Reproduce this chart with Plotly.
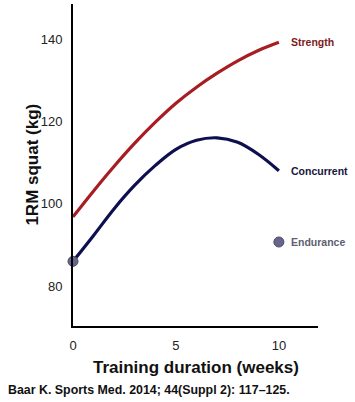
import plotly.graph_objects as go

weeks = [0, 1, 2, 3, 4, 5, 6, 7, 8, 9, 10]
strength = [96.8, 103.1, 109.1, 114.7, 119.8, 124.4, 128.3, 131.7, 134.7, 137.2, 139.2]
concurrent = [86.0, 92.3, 98.8, 104.5, 109.3, 113.2, 115.4, 116.0, 114.9, 112.0, 108.0]
endurance_weeks = [0, 10]
endurance = [86.0, 90.7]
x_ticks = [0, 5, 10]
y_ticks = [80, 100, 120, 140]

RED = "#a71d22"
NAVY = "#0e0f4e"
END = "#66668a"

fig = go.Figure()
fig.add_trace(go.Scatter(x=weeks, y=strength, mode="lines",
                         line=dict(color=RED, width=3.2, shape="spline", smoothing=1.0),
                         cliponaxis=False, hoverinfo="skip"))
fig.add_trace(go.Scatter(x=weeks, y=concurrent, mode="lines",
                         line=dict(color=NAVY, width=3.2, shape="spline", smoothing=1.0),
                         cliponaxis=False, hoverinfo="skip"))
fig.add_trace(go.Scatter(x=endurance_weeks, y=endurance, mode="markers",
                         marker=dict(color=END, size=10, line=dict(color="#4a4a66", width=1)),
                         cliponaxis=False, hoverinfo="skip"))

lab_font = dict(family="Liberation Sans, Arial, sans-serif", size=10.5)
fig.add_annotation(x=weeks[-1], y=strength[-1], text="<b>Strength</b>", showarrow=False,
                   xanchor="left", yanchor="middle", xshift=10,
                   font=dict(color="#7d1c22", **lab_font))
fig.add_annotation(x=weeks[-1], y=concurrent[-1], text="<b>Concurrent</b>", showarrow=False,
                   xanchor="left", yanchor="middle", xshift=10,
                   font=dict(color="#16163e", **lab_font))
fig.add_annotation(x=endurance_weeks[-1], y=endurance[-1], text="<b>Endurance</b>", showarrow=False,
                   xanchor="left", yanchor="middle", xshift=10,
                   font=dict(color="#5e5e70", **lab_font))

# axis titles
fig.add_annotation(xref="paper", yref="paper", x=0.5, y=-0.13, yanchor="middle",
                   text="<b>Training duration (weeks)</b>", showarrow=False,
                   font=dict(family="Liberation Sans, Arial, sans-serif", size=17, color="#111"))
fig.add_annotation(xref="paper", yref="paper", x=-0.216, y=0.5, textangle=-90,
                   text="<b>1RM squat (kg)</b>", showarrow=False,
                   font=dict(family="Liberation Sans, Arial, sans-serif", size=17, color="#111"))
fig.add_annotation(xref="paper", yref="paper", x=-0.275, y=-0.2, xanchor="left", yanchor="middle",
                   text="<b>Baar K. Sports Med. 2014; 44(Suppl 2): 117–125.</b>", showarrow=False,
                   font=dict(family="Liberation Sans, Arial, sans-serif", size=12.4, color="#111"))

fig.update_layout(
    width=355, height=402,
    margin=dict(l=73, r=37, t=4, b=76),
    paper_bgcolor="white", plot_bgcolor="white",
    showlegend=False,
    font=dict(family="Liberation Sans, Arial, sans-serif", size=13, color="#222"),
    xaxis=dict(range=[0, 11.9], tickvals=x_ticks, showgrid=False, zeroline=False,
               showline=True, linecolor="black", linewidth=2, ticks="", ticklabelstandoff=6),
    yaxis=dict(range=[70.3, 148.5], tickvals=y_ticks, showgrid=False, zeroline=False,
               showline=True, linecolor="black", linewidth=2, ticks="", ticklabelstandoff=6),
)
fig.write_html("out.html", config={"displayModeBar": False},
               post_script="document.body.style.margin='0';document.body.style.overflow='hidden';")
